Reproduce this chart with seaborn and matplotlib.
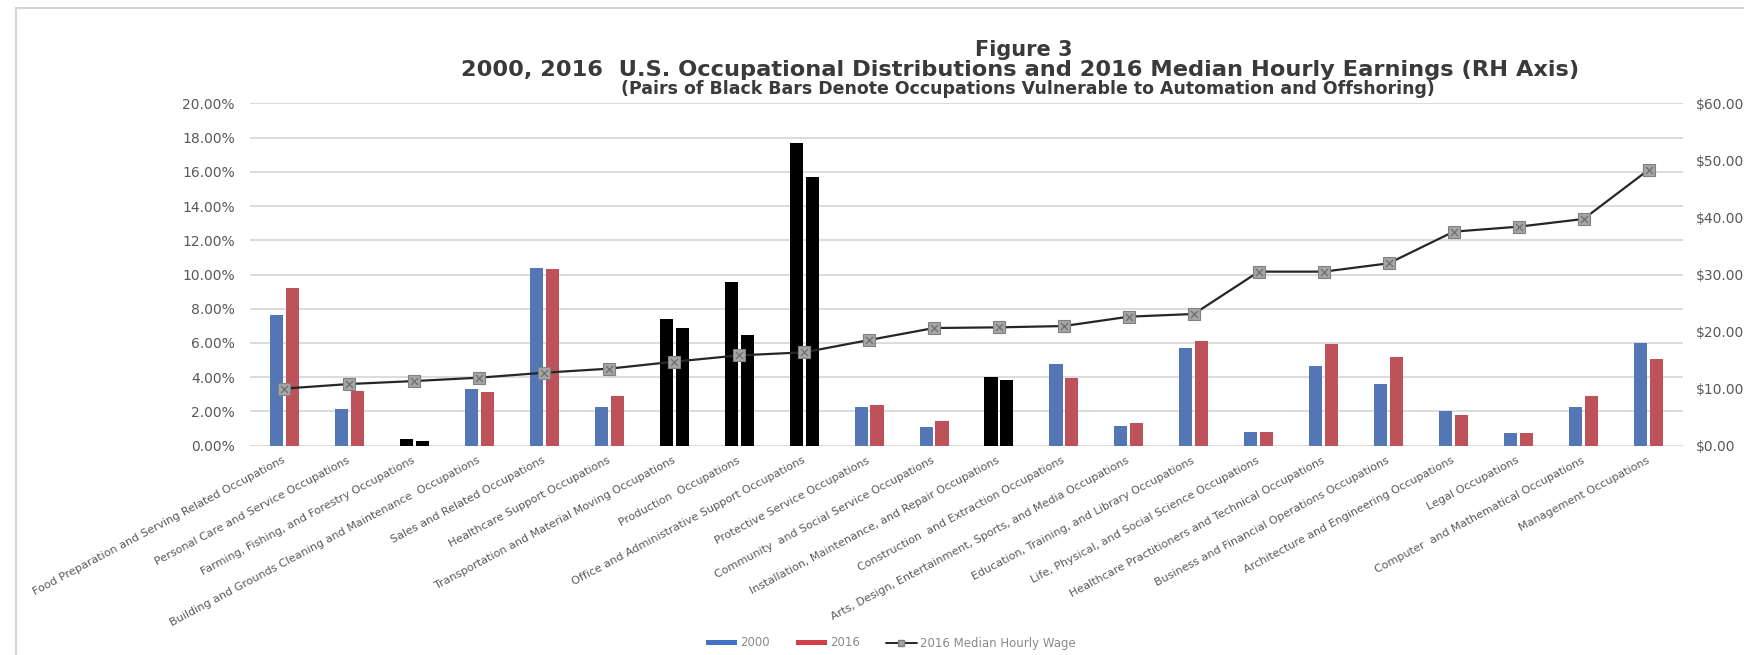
import numpy as np
import pandas as pd
import matplotlib
matplotlib.use("Agg")
import matplotlib.pyplot as plt
import matplotlib.transforms as mtransforms
from matplotlib.lines import Line2D
from matplotlib.patches import Patch
from matplotlib.ticker import FuncFormatter, MultipleLocator
import seaborn as sns

# ---- data -------------------------------------------------------------
occupations = [
    "Food Preparation and Serving Related Occupations",
    "Personal Care and Service Occupations",
    "Farming, Fishing, and Forestry Occupations",
    "Building and Grounds Cleaning and Maintenance  Occupations",
    "Sales and Related Occupations",
    "Healthcare Support Occupations",
    "Transportation and Material Moving Occupations",
    "Production  Occupations",
    "Office and Administrative Support Occupations",
    "Protective Service Occupations",
    "Community  and Social Service Occupations",
    "Installation, Maintenance, and Repair Occupations",
    "Construction  and Extraction Occupations",
    "Arts, Design, Entertainment, Sports, and Media Occupations",
    "Education, Training, and Library Occupations",
    "Life, Physical, and Social Science Occupations",
    "Healthcare Practitioners and Technical Occupations",
    "Business and Financial Operations Occupations",
    "Architecture and Engineering Occupations",
    "Legal Occupations",
    "Computer  and Mathematical Occupations",
    "Management Occupations",
]
share_2000 = [7.63, 2.12, 0.37, 3.31, 10.36, 2.28, 7.42, 9.54, 17.66, 2.28, 1.07,
              4.03, 4.77, 1.17, 5.71, 0.80, 4.65, 3.58, 2.01, 0.72, 2.28, 5.98]
share_2016 = [9.23, 3.19, 0.29, 3.14, 10.32, 2.88, 6.87, 6.45, 15.70, 2.40, 1.42,
              3.86, 3.97, 1.34, 6.13, 0.80, 5.92, 5.16, 1.79, 0.72, 2.92, 5.05]
median_wage_2016 = [10.01, 10.81, 11.33, 11.92, 12.79, 13.50, 14.72, 15.83, 16.36,
                    18.52, 20.62, 20.74, 20.97, 22.61, 23.08, 30.50, 30.50, 31.96,
                    37.51, 38.38, 39.73, 48.35]
vulnerable = [
    "Farming, Fishing, and Forestry Occupations",
    "Transportation and Material Moving Occupations",
    "Production  Occupations",
    "Office and Administrative Support Occupations",
    "Installation, Maintenance, and Repair Occupations",
]
years = ["2000", "2016"]

BLUE = "#4472C4"
RED = "#D0404B"
BLACK = "#000000"
LINE = "#262626"
GRID = "#D9D9D9"
TICK = "#595959"

# ---- figure -----------------------------------------------------------
sns.set_theme(style="white")
plt.rcParams["font.family"] = ["DejaVu Sans"]

W, H = 1744, 655
fig = plt.figure(figsize=(W / 100, H / 100), dpi=100)
fig.patch.set_facecolor("white")
ax = fig.add_axes([250 / W, 1 - 445.7 / H, (1683 - 250) / W, 342.4 / H])

n = len(occupations)
df = pd.DataFrame({
    "Occupation": occupations * 2,
    "Year": [years[0]] * n + [years[1]] * n,
    "Share": share_2000 + share_2016,
})
sns.barplot(data=df, x="Occupation", y="Share", hue="Year", order=occupations,
            hue_order=years, palette={years[0]: BLUE, years[1]: RED},
            width=0.49, gap=0.18, linewidth=0, legend=False, ax=ax, zorder=2)

# occupations vulnerable to automation/offshoring drawn in black
for p in ax.patches:
    idx = int(round(p.get_x() + p.get_width() / 2))
    if occupations[idx] in vulnerable:
        p.set_facecolor(BLACK)

ax.set_ylim(0, 20)
ax.yaxis.set_major_locator(MultipleLocator(2))
ax.yaxis.set_major_formatter(FuncFormatter(lambda v, _: f"{v:.2f}%"))
ax.yaxis.grid(True, color=GRID, linewidth=1.3)
ax.set_axisbelow(True)
ax.set_xlabel("")
ax.set_ylabel("")
for s in ax.spines.values():
    s.set_visible(False)
ax.tick_params(axis="y", length=0, pad=11, labelsize=10, labelcolor=TICK)

ax.set_xticks(range(n))
ax.set_xticklabels(occupations, rotation=28, ha="right", va="center",
                   rotation_mode="anchor", fontsize=8, color=TICK)
ax.tick_params(axis="x", length=0, pad=0)
shift = mtransforms.ScaledTranslation(0, -14 / 100, fig.dpi_scale_trans)
for lab in ax.get_xticklabels():
    lab.set_transform(lab.get_transform() + shift)

# ---- median wage line on the right axis --------------------------------
ax2 = ax.twinx()
xpos = np.arange(n)
sns.lineplot(x=xpos, y=median_wage_2016, ax=ax2, color=LINE, linewidth=1.6,
             marker="s", markersize=8, markerfacecolor="#A6A6A6",
             markeredgecolor="#808080", markeredgewidth=0.8, zorder=4)
ax2.scatter(xpos, median_wage_2016, marker="x", s=26, color="#6E6E6E",
            linewidths=0.9, zorder=5)
ax2.set_ylim(0, 60)
ax2.yaxis.set_major_locator(MultipleLocator(10))
ax2.yaxis.set_major_formatter(FuncFormatter(lambda v, _: f"${v:.2f}"))
ax2.tick_params(axis="y", length=0, pad=9, labelsize=10, labelcolor=TICK)
ax2.set_ylabel("")
for s in ax2.spines.values():
    s.set_visible(False)
ax2.grid(False)
ax.set_xlim(-0.53, n - 1 + 0.53)

# ---- titles -----------------------------------------------------------
TITLE = "#3A3A3A"
fig.text(1024 / W, 1 - 50 / H, "Figure 3", ha="center", va="center",
         family=["DejaVu Sans"], fontweight="bold", fontsize=15, color=TITLE)
fig.text(1020 / W, 1 - 70 / H,
         "2000, 2016  U.S. Occupational Distributions and 2016 Median Hourly Earnings (RH Axis)",
         ha="center", va="center", family=["DejaVu Sans"],
         fontweight="bold", fontsize=16.2, color=TITLE)
fig.text(1028 / W, 1 - 89 / H,
         "(Pairs of Black Bars Denote Occupations Vulnerable to Automation and Offshoring)",
         ha="center", va="center", family=["DejaVu Sans"],
         fontweight="bold", fontsize=12.5, color=TITLE)

# ---- legend -----------------------------------------------------------
handles = [
    Patch(facecolor=BLUE, edgecolor="none", label="2000"),
    Patch(facecolor=RED, edgecolor="none", label="2016"),
    Line2D([0], [0], color=LINE, linewidth=1.4, marker="s", markersize=5,
           markerfacecolor="#A6A6A6", markeredgecolor="#808080",
           label="2016 Median Hourly Wage"),
]
fig.legend(handles=handles, loc="center", bbox_to_anchor=(891 / W, 1 - 643 / H),
           ncol=3, frameon=False, fontsize=8.5, labelcolor="#8A8A8A",
           handlelength=2.6, handleheight=0.3, handletextpad=0.3,
           columnspacing=2.2)

# ---- outer frame ------------------------------------------------------
fig.add_artist(Line2D([16 / W, 16 / W], [0, 1 - 8 / H], transform=fig.transFigure,
                      color="#D4D4D4", linewidth=1.5))
fig.add_artist(Line2D([16 / W, 1], [1 - 8 / H, 1 - 8 / H], transform=fig.transFigure,
                      color="#D4D4D4", linewidth=1.5))

fig.savefig("out.png", dpi=100, facecolor="white")
